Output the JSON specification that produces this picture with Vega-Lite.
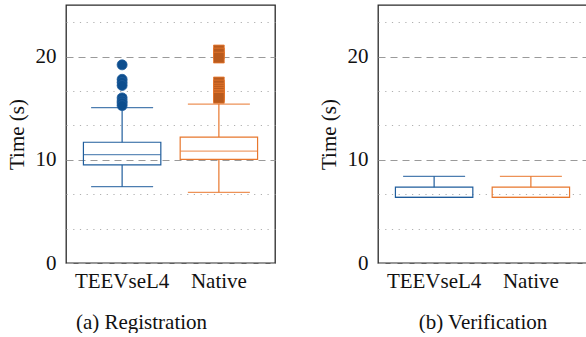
{
  "$schema": "https://vega.github.io/schema/vega-lite/v6.json",
  "padding": {"left": 5, "top": 4, "right": 0, "bottom": 0},
  "spacing": 41,
  "config": {
    "font": "Liberation Serif",
    "view": {"stroke": "#2a2a2a", "strokeWidth": 1.3},
    "axis": {
      "labelFont": "Liberation Serif", "titleFont": "Liberation Serif",
      "labelFontSize": 21, "titleFontSize": 21, "titleFontWeight": "normal",
      "labelColor": "#111", "titleColor": "#111",
      "domain": false, "ticks": false, "labelOverlap": false
    }
  },
  "datasets": {
    "boxes": [
      {"task": "Registration", "system": "TEEVseL4", "lower": 7.4, "q1": 9.5, "median": 10.5, "q3": 11.7, "upper": 15.05},
      {"task": "Registration", "system": "Native", "lower": 6.85, "q1": 10.05, "median": 10.85, "q3": 12.2, "upper": 15.4},
      {"task": "Verification", "system": "TEEVseL4", "lower": 6.35, "q1": 6.35, "median": 6.35, "q3": 7.35, "upper": 8.4},
      {"task": "Verification", "system": "Native", "lower": 6.35, "q1": 6.35, "median": 6.35, "q3": 7.35, "upper": 8.4}
    ],
    "outliers": [
      {"task": "Registration", "system": "TEEVseL4", "value": 19.2},
      {"task": "Registration", "system": "TEEVseL4", "value": 17.8},
      {"task": "Registration", "system": "TEEVseL4", "value": 17.5},
      {"task": "Registration", "system": "TEEVseL4", "value": 17.2},
      {"task": "Registration", "system": "TEEVseL4", "value": 16.0},
      {"task": "Registration", "system": "TEEVseL4", "value": 15.7},
      {"task": "Registration", "system": "TEEVseL4", "value": 15.5},
      {"task": "Registration", "system": "TEEVseL4", "value": 15.25},
      {"task": "Registration", "system": "Native", "value": 20.6},
      {"task": "Registration", "system": "Native", "value": 20.3},
      {"task": "Registration", "system": "Native", "value": 19.9},
      {"task": "Registration", "system": "Native", "value": 17.5},
      {"task": "Registration", "system": "Native", "value": 17.2},
      {"task": "Registration", "system": "Native", "value": 16.9},
      {"task": "Registration", "system": "Native", "value": 16.7},
      {"task": "Registration", "system": "Native", "value": 16.5},
      {"task": "Registration", "system": "Native", "value": 16.3},
      {"task": "Registration", "system": "Native", "value": 16.15},
      {"task": "Registration", "system": "Native", "value": 16.0}
    ]
  },
  "hconcat": [
    {
      "width": 209, "height": 258,
      "encoding": {
        "x": {"field": "system", "type": "nominal", "sort": ["TEEVseL4", "Native"],
              "scale": {"domain": ["TEEVseL4", "Native"], "paddingInner": 0, "paddingOuter": 0.08},
              "axis": {"labelAngle": 0, "labelPadding": 7, "title": "(a) Registration", "titlePadding": 20, "titleX": 75}},
        "color": {"field": "system", "type": "nominal", "scale": {"domain": ["TEEVseL4", "Native"], "range": ["#1f5d9c", "#e8772d"]}, "legend": null}
      },
      "layer": [
        {"data": {"name": "boxes"}, "transform": [{"filter": "datum.task === 'Registration'"}],
         "mark": {"type": "rule", "strokeWidth": 1.2},
         "encoding": {
           "y": {"field": "lower", "type": "quantitative", "scale": {"domain": [0, 25], "nice": false},
                 "axis": {"title": "Time (s)", "labelPadding": 10, "titlePadding": 8, "tickCount": 30,
                          "values": [0, 3.3333333, 6.6666667, 10, 13.333333, 16.666667, 20, 23.333333],
                          "labelExpr": "datum.value % 10 === 0 ? datum.label : ''",
                          "gridDash": {"condition": {"test": "datum.value % 10 === 0", "value": [7, 5]}, "value": [1.2, 5.5]},
                          "gridColor": {"condition": {"test": "datum.value % 10 === 0", "value": "#9a9a9a"}, "value": "#b0b0b0"},
                          "gridWidth": 1.1}},
           "y2": {"field": "q1"}}},
        {"data": {"name": "boxes"}, "transform": [{"filter": "datum.task === 'Registration'"}],
         "mark": {"type": "rule", "strokeWidth": 1.2},
         "encoding": {"y": {"field": "q3", "type": "quantitative"}, "y2": {"field": "upper"}}},
        {"data": {"name": "boxes"}, "transform": [{"filter": "datum.task === 'Registration'"}],
         "mark": {"type": "bar", "filled": false, "strokeWidth": 1.2, "width": {"band": 0.8}},
         "encoding": {"y": {"field": "q1", "type": "quantitative"}, "y2": {"field": "q3"}}},
        {"data": {"name": "boxes"}, "transform": [{"filter": "datum.task === 'Registration'"}],
         "mark": {"type": "tick", "size": 77, "thickness": 1.2},
         "encoding": {"y": {"field": "median", "type": "quantitative"}}},
        {"data": {"name": "boxes"}, "transform": [{"filter": "datum.task === 'Registration'"}],
         "mark": {"type": "tick", "size": 62, "thickness": 1.2, "opacity": 0.8},
         "encoding": {"y": {"field": "lower", "type": "quantitative"}}},
        {"data": {"name": "boxes"}, "transform": [{"filter": "datum.task === 'Registration'"}],
         "mark": {"type": "tick", "size": 62, "thickness": 1.2, "opacity": 0.8},
         "encoding": {"y": {"field": "upper", "type": "quantitative"}}},
        {"data": {"name": "outliers"}, "transform": [{"filter": "datum.task === 'Registration' && datum.system === 'TEEVseL4'"}],
         "mark": {"type": "point", "shape": "circle", "filled": true, "size": 100, "fill": "#0d4e8e", "stroke": "#1f5d9c", "strokeWidth": 0.8, "opacity": 1},
         "encoding": {"y": {"field": "value", "type": "quantitative"}, "color": {"value": "#0d4e8e"}}},
        {"data": {"name": "outliers"}, "transform": [{"filter": "datum.task === 'Registration' && datum.system === 'Native'"}],
         "mark": {"type": "point", "shape": "square", "filled": true, "size": 115, "fill": "#b95b1e", "stroke": "#e8772d", "strokeWidth": 0.8, "opacity": 1},
         "encoding": {"y": {"field": "value", "type": "quantitative"}, "color": {"value": "#b95b1e"}}}
      ]
    },
    {
      "width": 209, "height": 258,
      "encoding": {
        "x": {"field": "system", "type": "nominal", "sort": ["TEEVseL4", "Native"],
              "scale": {"domain": ["TEEVseL4", "Native"], "paddingInner": 0, "paddingOuter": 0.08},
              "axis": {"labelAngle": 0, "labelPadding": 7, "title": "(b) Verification", "titlePadding": 20}},
        "color": {"field": "system", "type": "nominal", "scale": {"domain": ["TEEVseL4", "Native"], "range": ["#1f5d9c", "#e8772d"]}, "legend": null}
      },
      "layer": [
        {"data": {"name": "boxes"}, "transform": [{"filter": "datum.task === 'Verification'"}],
         "mark": {"type": "rule", "strokeWidth": 1.2},
         "encoding": {
           "y": {"field": "lower", "type": "quantitative", "scale": {"domain": [0, 25], "nice": false},
                 "axis": {"title": "Time (s)", "labelPadding": 10, "titlePadding": 8, "tickCount": 30,
                          "values": [0, 3.3333333, 6.6666667, 10, 13.333333, 16.666667, 20, 23.333333],
                          "labelExpr": "datum.value % 10 === 0 ? datum.label : ''",
                          "gridDash": {"condition": {"test": "datum.value % 10 === 0", "value": [7, 5]}, "value": [1.2, 5.5]},
                          "gridColor": {"condition": {"test": "datum.value % 10 === 0", "value": "#9a9a9a"}, "value": "#b0b0b0"},
                          "gridWidth": 1.1}},
           "y2": {"field": "q1"}}},
        {"data": {"name": "boxes"}, "transform": [{"filter": "datum.task === 'Verification'"}],
         "mark": {"type": "rule", "strokeWidth": 1.2},
         "encoding": {"y": {"field": "q3", "type": "quantitative"}, "y2": {"field": "upper"}}},
        {"data": {"name": "boxes"}, "transform": [{"filter": "datum.task === 'Verification'"}],
         "mark": {"type": "bar", "filled": false, "strokeWidth": 1.2, "width": {"band": 0.8}},
         "encoding": {"y": {"field": "q1", "type": "quantitative"}, "y2": {"field": "q3"}}},
        {"data": {"name": "boxes"}, "transform": [{"filter": "datum.task === 'Verification'"}],
         "mark": {"type": "tick", "size": 77, "thickness": 1.2},
         "encoding": {"y": {"field": "median", "type": "quantitative"}}},
        {"data": {"name": "boxes"}, "transform": [{"filter": "datum.task === 'Verification'"}],
         "mark": {"type": "tick", "size": 62, "thickness": 1.2, "opacity": 0.8},
         "encoding": {"y": {"field": "upper", "type": "quantitative"}}}
      ]
    }
  ]
}
